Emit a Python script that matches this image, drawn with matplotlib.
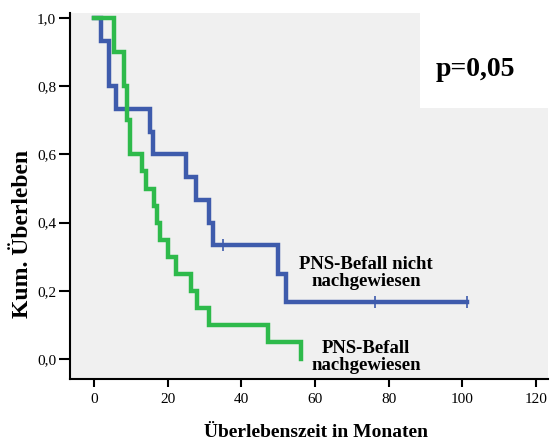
import matplotlib
matplotlib.use("Agg")
import matplotlib.pyplot as plt
from matplotlib.patches import Rectangle

# Kaplan-Meier Schaetzung
monate_nicht = [0, 1.9, 4.05, 5.9, 15.1, 16.0, 25.1, 27.8, 31.1, 32.2, 50.0, 52.0, 101.3]
surv_nicht = [1.0, 0.933, 0.8, 0.733, 0.667, 0.6, 0.533, 0.467, 0.4, 0.333, 0.25, 0.167, 0.167]
zensiert_nicht_x = [35.1, 76.2, 101.3]
zensiert_nicht_y = [0.333, 0.167, 0.167]

monate_nachg = [0, 5.4, 8.2, 9.1, 9.9, 13.1, 14.0, 16.2, 17.1, 18.0, 20.1, 22.2, 26.2, 28.0, 31.2, 47.1, 56.1]
surv_nachg = [1.0, 0.9, 0.8, 0.7, 0.6, 0.55, 0.5, 0.45, 0.4, 0.35, 0.3, 0.25, 0.2, 0.15, 0.1, 0.05, 0.0]

x_ticks = [0, 20, 40, 60, 80, 100, 120]
y_ticks = [0.0, 0.2, 0.4, 0.6, 0.8, 1.0]
y_tick_labels = ["0,0", "0,2", "0,4", "0,6", "0,8", "1,0"]

blau = "#3E5BAC"
gruen = "#2EBA4B"

plt.rcParams["font.family"] = ["Liberation Serif", "DejaVu Serif"]

fig = plt.figure(figsize=(5.5, 4.41), dpi=100)
ax = fig.add_axes([70 / 550, 1 - 379 / 441, 478 / 550, 366 / 441])
ax.set_facecolor("#F0F0F0")

ax.step(monate_nicht, surv_nicht, where="post", color=blau, lw=3.2, solid_joinstyle="miter")
ax.plot(zensiert_nicht_x, zensiert_nicht_y, ls="none", marker="|", ms=8, mew=1.2, color=blau)
ax.step(monate_nachg, surv_nachg, where="post", color=gruen, lw=3.2, solid_joinstyle="miter")

ax.set_xlim(-6.5, 123.2)
ax.set_ylim(-0.059, 1.015)
ax.set_xticks(x_ticks)
ax.set_yticks(y_ticks)
ax.set_yticklabels(y_tick_labels)
ax.tick_params(axis="x", direction="out", length=6, width=1.5, labelsize=11, pad=4)
ax.tick_params(axis="y", direction="out", length=8, width=1.5, labelsize=11, pad=2)

for s in ["top", "right"]:
    ax.spines[s].set_visible(False)
for s in ["left", "bottom"]:
    ax.spines[s].set_linewidth(1.5)

ax.set_xlabel("Überlebenszeit in Monaten", fontsize=14, fontweight="bold", va="center")
ax.xaxis.set_label_coords(0.515, -0.145)
ax.set_ylabel("Kum. Überleben", fontsize=17, fontweight="bold", va="center")
ax.yaxis.set_label_coords(-0.100, 0.396)

ax.text(73.8, 0.252, "PNS-Befall nicht\nnachgewiesen", ha="center", va="center",
        fontsize=13.5, fontweight="bold", linespacing=1.05)
ax.text(73.8, 0.006, "PNS-Befall\nnachgewiesen", ha="center", va="center",
        fontsize=13.5, fontweight="bold", linespacing=1.05)

# weisser Kasten fuer den p-Wert
ax.add_patch(Rectangle((0.732, 0.740), 0.268, 0.30, transform=ax.transAxes,
                       facecolor="white", edgecolor="none", clip_on=False, zorder=5))
fig.text(475 / 550, 1 - 70 / 441, "p=0,05", ha="center", va="center",
         fontsize=20, fontweight="bold", zorder=6)

fig.savefig("out.png", dpi=100)
